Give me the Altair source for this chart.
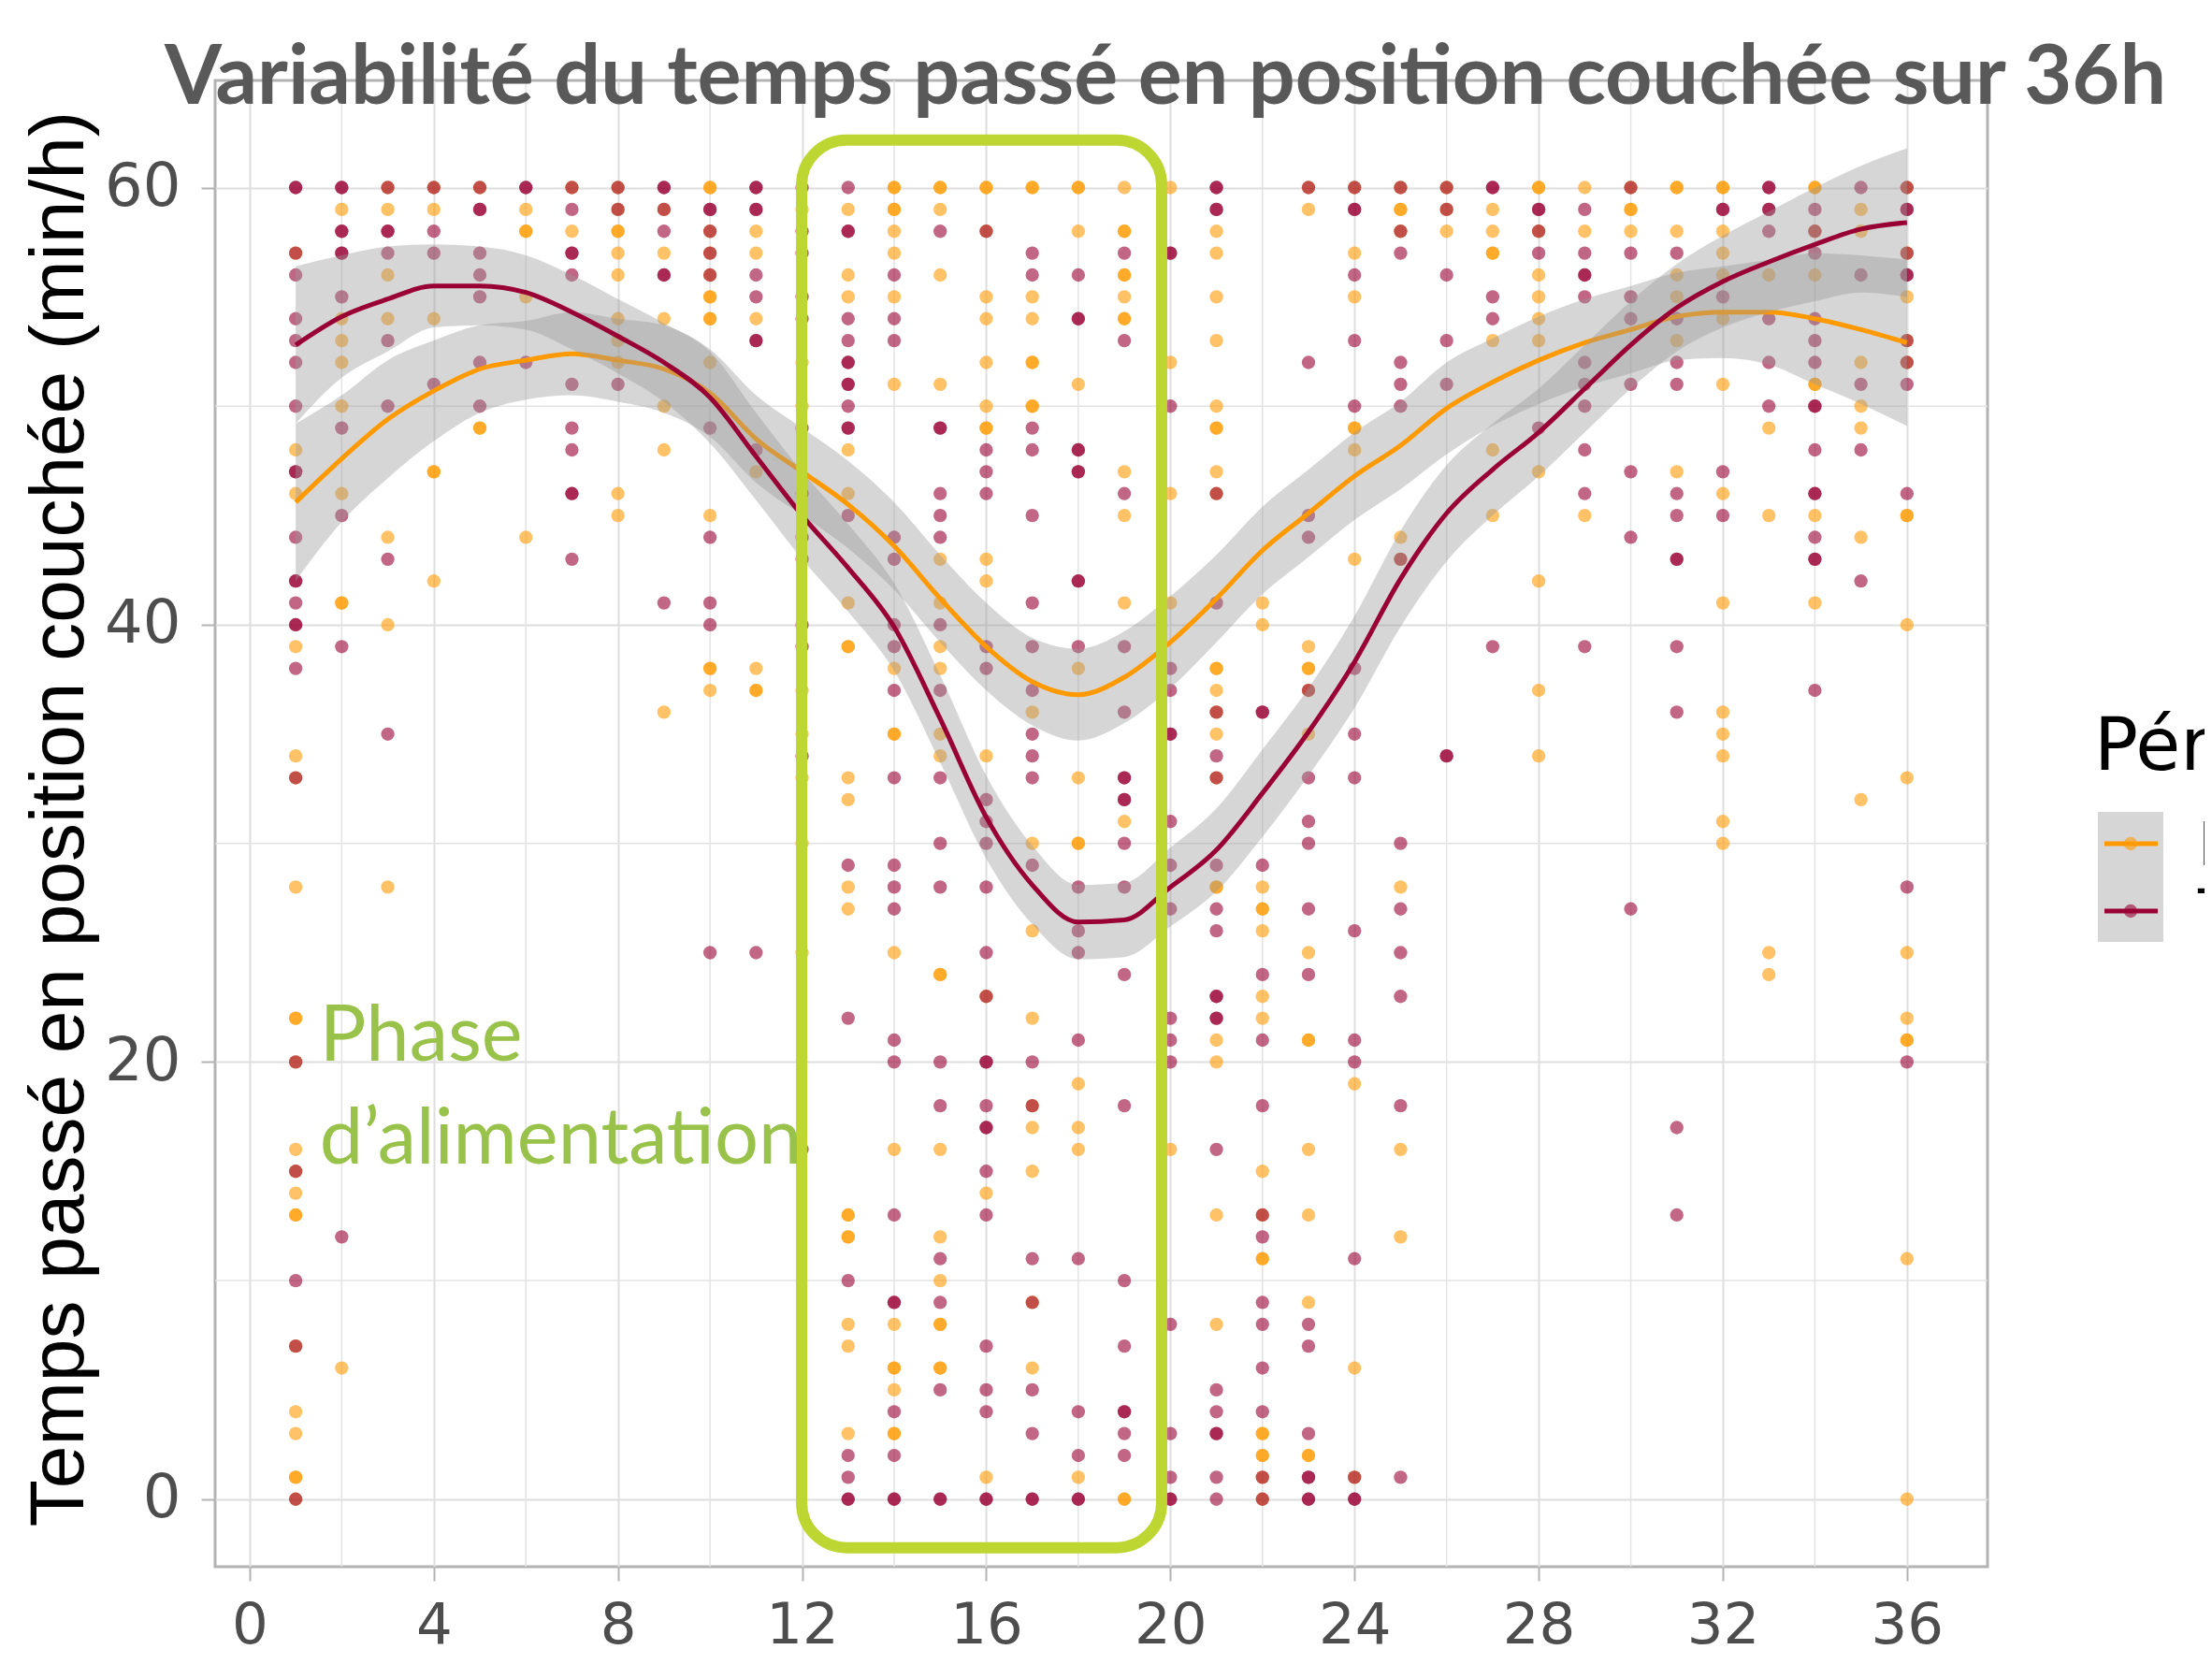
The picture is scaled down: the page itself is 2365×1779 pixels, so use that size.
import altair as alt
import pandas as pd

# ---------------- data ----------------
HOURS = list(range(1, 37))
SERIES = ["E", "T"]
SERIES_COLORS = ["#FF9900", "#990033"]

E_VALUES = [
    [57, 48, 46, 39, 34, 33, 28, 22, 22, 20, 16, 15, 14, 13, 13, 7, 4, 3, 1, 1, 0],
    [59, 54, 53, 52, 50, 46, 41, 41, 6],
    [60, 59, 56, 54, 44, 40, 28],
    [60, 59, 54, 47, 47, 42],
    [60, 49, 49],
    [59, 58, 58, 55, 44],
    [60, 58],
    [60, 59, 58, 58, 57, 56, 54, 53, 52, 46, 45],
    [59, 57, 54, 50, 48, 36],
    [60, 60, 58, 57, 56, 55, 55, 54, 54, 52, 45, 38, 38, 37],
    [58, 57, 54, 47, 38, 37, 37],
    [59, 52, 50, 37, 35, 33, 30, 25],
    [59, 56, 55, 48, 46, 41, 39, 39, 33, 32, 28, 27, 13, 13, 12, 12, 8, 7, 3],
    [60, 60, 59, 59, 58, 57, 55, 51, 38, 35, 35, 25, 16, 8, 6, 6, 5, 3, 3],
    [60, 60, 59, 56, 51, 43, 41, 39, 38, 35, 34, 24, 24, 16, 12, 10, 8, 8, 6, 6],
    [60, 60, 58, 55, 54, 52, 50, 49, 49, 43, 42, 34, 23, 14, 1],
    [60, 60, 55, 54, 52, 52, 50, 50, 36, 30, 26, 22, 18, 17, 15, 9, 6],
    [60, 60, 58, 51, 38, 33, 30, 30, 19, 17, 16, 1],
    [60, 58, 58, 56, 56, 55, 54, 54, 47, 45, 41, 31, 0, 0],
    [60, 52, 46, 41, 16],
    [58, 57, 55, 53, 50, 49, 49, 47, 46, 38, 38, 37, 36, 35, 33, 28, 28, 21, 20, 13, 8],
    [41, 40, 28, 27, 27, 26, 23, 22, 15, 13, 11, 11, 3, 3, 2, 2, 1, 0],
    [60, 59, 39, 38, 38, 37, 35, 25, 21, 21, 16, 13, 9, 2, 2],
    [60, 57, 55, 49, 49, 48, 43, 19, 6, 1],
    [60, 59, 59, 58, 44, 43, 28, 16, 12],
    [60, 59, 58],
    [59, 58, 57, 57, 53, 48, 45],
    [60, 60, 58, 56, 55, 54, 53, 47, 42, 37, 34],
    [60, 58, 45],
    [60, 59, 59, 58],
    [60, 60, 58, 56, 55, 53, 47],
    [60, 60, 58, 57, 56, 54, 51, 46, 41, 36, 35, 34, 31, 30],
    [56, 49, 45, 25, 24],
    [60, 60, 58, 56, 51, 51, 45, 41],
    [59, 58, 52, 50, 49, 44, 32],
    [60, 57, 55, 53, 52, 45, 45, 40, 33, 25, 22, 21, 21, 11, 0],
]

T_VALUES = [
    [60, 60, 57, 56, 54, 53, 52, 50, 47, 47, 44, 42, 42, 41, 40, 40, 38, 33, 20, 15, 10, 7, 0],
    [60, 60, 58, 58, 57, 57, 55, 49, 45, 39, 12],
    [60, 58, 58, 57, 53, 50, 43, 35],
    [60, 58, 57, 51],
    [60, 59, 59, 57, 56, 55, 52, 50],
    [60, 60, 52],
    [60, 59, 57, 57, 56, 51, 49, 48, 46, 46, 43],
    [60, 59, 51],
    [60, 60, 59, 58, 56, 56, 41],
    [59, 59, 58, 57, 56, 49, 44, 41, 40, 25],
    [60, 60, 59, 59, 56, 55, 53, 53, 48, 25],
    [60, 58, 57, 55, 54, 49, 46, 44, 43, 40, 39, 34, 16],
    [60, 58, 58, 54, 53, 52, 52, 51, 51, 50, 49, 49, 45, 29, 22, 10, 2, 1, 0, 0],
    [56, 54, 53, 44, 43, 40, 39, 37, 33, 29, 28, 27, 21, 20, 13, 9, 9, 4, 2, 0, 0],
    [58, 49, 49, 46, 45, 44, 40, 37, 33, 30, 28, 20, 18, 11, 9, 5, 0, 0],
    [58, 48, 47, 46, 39, 38, 32, 31, 30, 28, 25, 23, 20, 20, 18, 17, 17, 15, 13, 7, 5, 4, 0, 0],
    [57, 56, 49, 48, 45, 41, 39, 37, 35, 34, 33, 29, 20, 18, 11, 9, 5, 3, 0, 0],
    [56, 54, 54, 48, 48, 47, 47, 42, 42, 39, 28, 26, 25, 21, 11, 4, 2, 0, 0],
    [57, 53, 46, 39, 36, 33, 33, 32, 32, 30, 28, 24, 18, 10, 7, 4, 4, 3, 2],
    [57, 57, 50, 38, 37, 35, 35, 31, 29, 27, 22, 21, 20, 8, 3, 1, 0, 0],
    [60, 60, 59, 59, 46, 41, 36, 34, 33, 29, 27, 26, 23, 23, 22, 22, 16, 5, 4, 3, 3, 1, 0],
    [36, 36, 29, 24, 21, 18, 13, 12, 9, 8, 6, 4, 1, 0],
    [60, 52, 45, 44, 37, 33, 31, 30, 27, 24, 8, 7, 3, 1, 1, 0, 0],
    [60, 59, 59, 56, 53, 50, 38, 35, 33, 26, 21, 20, 11, 1, 0, 0],
    [60, 58, 57, 52, 51, 50, 43, 30, 27, 25, 23, 18, 1],
    [60, 59, 56, 53, 51, 34, 34],
    [60, 60, 55, 54, 39],
    [59, 59, 58, 57, 49],
    [59, 57, 56, 56, 55, 52, 51, 50, 48, 46, 39],
    [60, 57, 55, 54, 51, 47, 44, 27],
    [57, 54, 52, 51, 46, 45, 43, 43, 39, 36, 17, 13],
    [59, 59, 55, 47, 45],
    [60, 60, 59, 59, 58, 54, 52, 50],
    [59, 58, 57, 54, 53, 52, 50, 50, 48, 46, 46, 44, 43, 43, 37],
    [60, 56, 51, 48, 42],
    [60, 59, 59, 57, 56, 56, 53, 52, 51, 46, 28, 20],
]

# smoothed curves (loess) and half-width of their confidence band, read per hour
E_FIT = [45.6, 47.6, 49.4, 50.7, 51.7, 52.1, 52.4, 52.1, 51.7, 50.6, 48.5, 47.0,
         45.5, 43.6, 41.2, 39.0, 37.4, 36.8, 37.6, 39.2, 41.2, 43.4, 45.1, 46.8,
         48.2, 49.9, 51.1, 52.1, 52.9, 53.5, 54.1, 54.3, 54.3, 54.0, 53.5, 52.9]
T_FIT = [52.8, 54.1, 54.9, 55.5, 55.5, 55.2, 54.3, 53.2, 52.0, 50.4, 47.7, 45.0,
         42.6, 39.9, 35.7, 31.2, 28.1, 26.4, 26.5, 28.0, 29.7, 32.3, 35.1, 38.3,
         42.1, 45.1, 47.1, 48.8, 50.8, 52.8, 54.5, 55.7, 56.6, 57.4, 58.1, 58.4]
E_HALF = [3.6, 2.9, 2.7, 2.3, 2.0, 1.8, 1.9, 1.9, 2.0, 2.0, 2.0, 2.0,
          2.0, 2.0, 2.0, 2.0, 2.0, 2.1, 2.1, 2.1, 2.0, 2.0, 2.0, 2.0,
          2.0, 2.1, 2.0, 2.0, 2.0, 2.0, 2.0, 2.1, 2.4, 3.0, 3.4, 3.8]
T_HALF = [3.6, 2.8, 2.4, 1.9, 1.8, 1.7, 1.7, 1.7, 1.8, 2.1, 2.0, 2.0,
          2.0, 2.0, 2.0, 1.9, 1.8, 1.7, 1.7, 1.8, 1.9, 2.0, 2.0, 2.1,
          2.2, 2.2, 2.1, 2.0, 2.0, 2.0, 2.0, 2.1, 2.3, 2.6, 2.9, 3.4]

X_TICKS = [0, 4, 8, 12, 16, 20, 24, 28, 32, 36]
Y_TICKS = [0, 20, 40, 60]
X_MINOR = [2, 6, 10, 14, 18, 22, 26, 30, 34]
Y_MINOR = [10, 30, 50]
X_DOMAIN = [-0.75, 37.75]
Y_DOMAIN = [-3.09, 64.9]

TITLE = "Variabilité du temps passé en position couchée sur 36h"
Y_TITLE = "Temps passé en position couchée (min/h)"
NOTE_LINES = ["Phase", "d’alimentation"]
NOTE_X = [1.52, 1.52]
NOTE_Y = [20.07, 15.36]
BOX_X = [11.99]
BOX_X2 = [19.81]
BOX_Y = [62.17]
BOX_Y2 = [-2.22]
LEGEND_TITLE = "Période"
LEGEND_LABELS = ["E", "T"]

# ---------------- layout ----------------
W, H = 1895, 1589
PAD = {"left": 222, "top": 78, "right": 232, "bottom": 95}
GREEN_BOX = "#BDD631"
GREEN_TEXT = "#98C24A"

# ---------------- tables ----------------
pts = []
for s, values in (("E", E_VALUES), ("T", T_VALUES)):
    for h, vals in zip(HOURS, values):
        for v in vals:
            pts.append({"heure": h, "valeur": v, "periode": s})
points_df = pd.DataFrame(pts)

def fit_df(fit, half):
    return pd.DataFrame({
        "heure": HOURS,
        "fit": fit,
        "lo": [f - d for f, d in zip(fit, half)],
        "hi": [f + d for f, d in zip(fit, half)],
    })

e_fit_df = fit_df(E_FIT, E_HALF)
t_fit_df = fit_df(T_FIT, T_HALF)

xscale = alt.Scale(domain=X_DOMAIN, nice=False, zero=False)
yscale = alt.Scale(domain=Y_DOMAIN, nice=False, zero=False)

x_axis = alt.Axis(values=X_TICKS, title="", domain=False, grid=True,
                  gridColor="#DEDEDE", gridWidth=2,
                  tickColor="#B3B3B3", tickWidth=2, tickSize=15,
                  labelFont="DejaVu Sans", labelFontSize=61, labelColor="#4D4D4D",
                  labelPadding=18)
y_axis = alt.Axis(values=Y_TICKS, title=Y_TITLE, domain=False, grid=True,
                  gridColor="#DEDEDE", gridWidth=2,
                  tickColor="#B3B3B3", tickWidth=2, tickSize=15,
                  labelFont="DejaVu Sans", labelFontSize=64, labelColor="#4D4D4D",
                  labelPadding=22,
                  titleFont="Liberation Sans", titleFontSize=82, titleFontWeight="normal",
                  titleColor="#000000", titleAngle=270, titleX=-142, titleY=789,
                  titleAlign="center", titleBaseline="alphabetic")

def X(field):
    return alt.X(field, type="quantitative", scale=xscale, axis=x_axis)

def Y(field):
    return alt.Y(field, type="quantitative", scale=yscale, axis=y_axis)

minor_x = alt.Chart(pd.DataFrame({"heure": X_MINOR})).mark_rule(
    color="#E3E3E3", strokeWidth=1.5).encode(x=X("heure"))
minor_y = alt.Chart(pd.DataFrame({"valeur": Y_MINOR})).mark_rule(
    color="#E3E3E3", strokeWidth=1.5).encode(y=Y("valeur"))

points = alt.Chart(points_df).mark_circle(size=205, opacity=0.6).encode(
    x=X("heure"), y=Y("valeur"),
    color=alt.Color("periode:N", scale=alt.Scale(domain=SERIES, range=SERIES_COLORS), legend=None),
)

def band(df):
    return alt.Chart(df).mark_area(color="#999999", opacity=0.4, interpolate="monotone").encode(
        x=X("heure"), y=Y("lo"), y2="hi")

def curve(df, color):
    return alt.Chart(df).mark_line(color=color, strokeWidth=5, interpolate="monotone").encode(
        x=X("heure"), y=Y("fit"))

box = alt.Chart(pd.DataFrame({"x": BOX_X, "x2": BOX_X2, "y": BOX_Y, "y2": BOX_Y2})).mark_rect(
    filled=False, color=GREEN_BOX, strokeWidth=12, cornerRadius=48).encode(
    x=X("x"), x2="x2", y=Y("y"), y2="y2")

note = alt.Chart(pd.DataFrame({"t": NOTE_LINES, "nx": NOTE_X, "ny": NOTE_Y})).mark_text(
    font="Lato", fontSize=83, color=GREEN_TEXT, align="left", baseline="alphabetic").encode(
    x=X("nx"), y=Y("ny"), text="t:N")

title = alt.Chart(pd.DataFrame({"t": [TITLE]})).mark_text(
    font="Lato", fontWeight="bold", fontSize=88, color="#595959",
    align="left", baseline="alphabetic").encode(
    x=alt.value(-54), y=alt.value(25), text="t:N")

# legend (drawn by hand: grey key with line + point, as in ggplot)
leg_layers = []
leg_layers.append(alt.Chart(pd.DataFrame({"t": [LEGEND_TITLE]})).mark_text(
    font="DejaVu Sans", fontSize=78, color="#000000", align="left", baseline="alphabetic").encode(
    x=alt.value(2009), y=alt.value(737), text="t:N"))
leg_layers.append(alt.Chart(pd.DataFrame({"k": [1]})).mark_rect(color="#D6D6D6").encode(
    x=alt.value(2013), x2=alt.value(2083), y=alt.value(782), y2=alt.value(921)))
LEG_ROW_Y = [816, 888]
for lab, col, ly in zip(LEGEND_LABELS, SERIES_COLORS, LEG_ROW_Y):
    leg_layers.append(alt.Chart(pd.DataFrame({"k": [1]})).mark_rule(color=col, strokeWidth=5).encode(
        x=alt.value(2020), x2=alt.value(2077), y=alt.value(ly)))
    leg_layers.append(alt.Chart(pd.DataFrame({"k": [1]})).mark_circle(color=col, opacity=0.6, size=205).encode(
        x=alt.value(2048), y=alt.value(ly)))
    leg_layers.append(alt.Chart(pd.DataFrame({"t": [lab]})).mark_text(
        font="DejaVu Sans", fontSize=64, color="#000000", align="left", baseline="middle").encode(
        x=alt.value(2120), y=alt.value(ly + 4), text="t:N"))

chart = alt.layer(
    minor_x, minor_y, points,
    band(e_fit_df), curve(e_fit_df, SERIES_COLORS[0]),
    band(t_fit_df), curve(t_fit_df, SERIES_COLORS[1]),
    box, note, title, *leg_layers,
).properties(
    width=W, height=H,
    autosize=alt.AutoSizeParams(type="none"),
    padding=PAD,
    background="white",
).configure_view(stroke="#B3B3B3", strokeWidth=3)

chart.save("out.html", embed_options={"renderer": "svg", "actions": False})
